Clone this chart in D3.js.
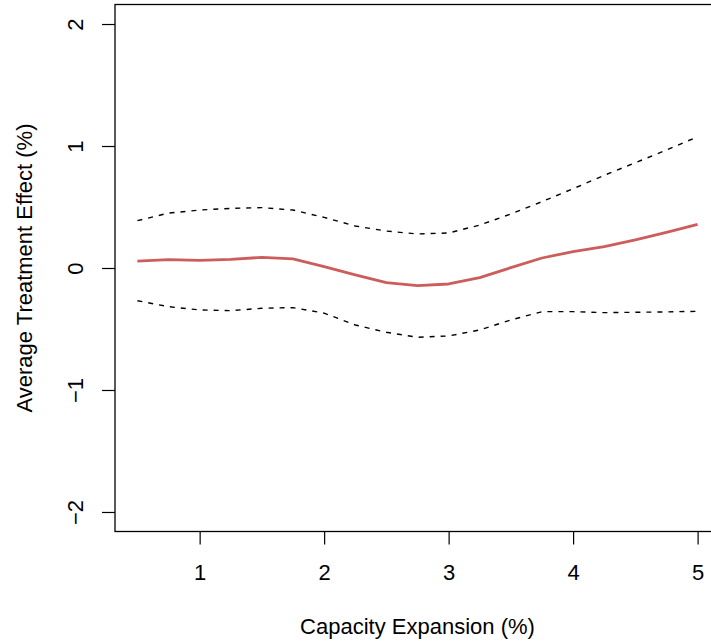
<!DOCTYPE html>
<html>
<head>
<meta charset="utf-8">
<script src="https://cdn.jsdelivr.net/npm/d3@7"></script>
<style>
  html, body { margin: 0; padding: 0; background: #fff; }
  svg { display: block; }
  text { font-family: "Liberation Sans", Arial, Helvetica, sans-serif; fill: #000; }
</style>
</head>
<body>
<svg id="chart" width="711" height="641"></svg>
<script>
// Data
const capacity = [0.5, 0.75, 1, 1.25, 1.5, 1.75, 2, 2.25, 2.5, 2.75, 3, 3.25, 3.5, 3.75, 4, 4.25, 4.5, 4.75, 5];
const estimate = [0.057, 0.068, 0.063, 0.071, 0.087, 0.074, 0.011, -0.057, -0.12, -0.145, -0.131, -0.079, 0.003, 0.082, 0.134, 0.175, 0.23, 0.292, 0.358];
const upperCI  = [0.388, 0.45, 0.475, 0.489, 0.495, 0.475, 0.415, 0.344, 0.303, 0.279, 0.287, 0.352, 0.443, 0.544, 0.65, 0.76, 0.863, 0.967, 1.076];
const lowerCI  = [-0.268, -0.317, -0.344, -0.35, -0.33, -0.325, -0.37, -0.467, -0.527, -0.568, -0.557, -0.508, -0.426, -0.358, -0.358, -0.366, -0.363, -0.36, -0.355];
const xTicks = [1, 2, 3, 4, 5];
const yTicks = [-2, -1, 0, 1, 2];
const xLabel = "Capacity Expansion (%)";
const yLabel = "Average Treatment Effect (%)";

const svg = d3.select("#chart");
const box = { left: 115, right: 720, top: 4.5, bottom: 531.5 };

// R-style 4% axis extension
const xDom = [0.5, 5], yDom = [-2, 2];
const xe = (xDom[1] - xDom[0]) * 0.04, ye = (yDom[1] - yDom[0]) * 0.04;
const x = d3.scaleLinear().domain([xDom[0] - xe, xDom[1] + xe]).range([box.left, box.right]);
const y = d3.scaleLinear().domain([yDom[0] - ye, yDom[1] + ye]).range([box.bottom, box.top]);

const fmt = d => (d < 0 ? "\u2212" + Math.abs(d) : String(d));
const fontSize = 22;
const tickLen = 13;

// X axis
const xAxis = d3.axisBottom(x).tickValues(xTicks).tickFormat(fmt).tickSizeInner(tickLen).tickSizeOuter(0).tickPadding(8);
const gx = svg.append("g").attr("transform", `translate(0,${box.bottom})`).call(xAxis);
gx.select(".domain").remove();
gx.selectAll(".tick line").attr("stroke", "#000").attr("stroke-width", 1.2);
gx.selectAll(".tick text").attr("font-size", fontSize).attr("dy", null).attr("y", 48)
  .attr("font-family", "Liberation Sans, Arial, sans-serif");

// Y axis
const yAxis = d3.axisLeft(y).tickValues(yTicks).tickFormat(fmt).tickSizeInner(tickLen).tickSizeOuter(0);
const gy = svg.append("g").attr("transform", `translate(${box.left},0)`).call(yAxis);
gy.select(".domain").remove();
gy.selectAll(".tick line").attr("stroke", "#000").attr("stroke-width", 1.2);
gy.selectAll(".tick text")
  .attr("font-size", fontSize)
  .attr("font-family", "Liberation Sans, Arial, sans-serif")
  .attr("x", null).attr("dy", null)
  .attr("text-anchor", "middle")
  .attr("transform", "translate(-32,0) rotate(-90)");

// Box
svg.append("rect")
  .attr("x", box.left).attr("y", box.top)
  .attr("width", box.right - box.left).attr("height", box.bottom - box.top)
  .attr("fill", "none").attr("stroke", "#000").attr("stroke-width", 1.3);

// Lines
const mk = vals => d3.line().x((d, i) => x(capacity[i])).y(d => y(d))(vals);

svg.append("path").attr("d", mk(upperCI))
  .attr("fill", "none").attr("stroke", "#000").attr("stroke-width", 1.4).attr("stroke-dasharray", "5,6");
svg.append("path").attr("d", mk(lowerCI))
  .attr("fill", "none").attr("stroke", "#000").attr("stroke-width", 1.4).attr("stroke-dasharray", "5,6");
svg.append("path").attr("d", mk(estimate))
  .attr("fill", "none").attr("stroke", "#CD5C5C").attr("stroke-width", 2.8).attr("stroke-linejoin", "round");

// Axis titles
svg.append("text")
  .attr("x", (box.left + box.right) / 2).attr("y", 634)
  .attr("text-anchor", "middle").attr("font-size", fontSize)
  .text(xLabel);
svg.append("text")
  .attr("transform", `translate(32,${(box.top + box.bottom) / 2}) rotate(-90)`)
  .attr("text-anchor", "middle").attr("font-size", fontSize)
  .text(yLabel);
</script>
</body>
</html>
